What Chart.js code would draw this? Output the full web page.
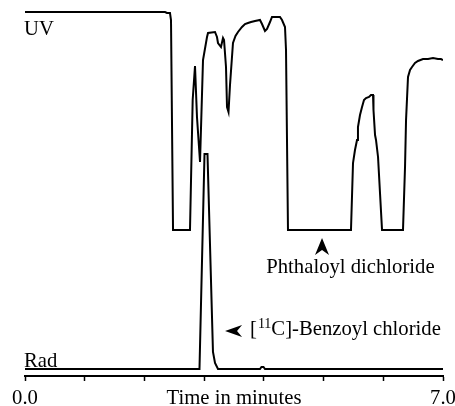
<!DOCTYPE html>
<html>
<head>
<meta charset="utf-8">
<style>
html,body{margin:0;padding:0;background:#fff;}
canvas{display:block;}
</style>
<script src="https://cdn.jsdelivr.net/npm/chart.js@4/dist/chart.umd.min.js"></script>
</head>
<body>
<canvas id="c" width="455" height="406"></canvas>
<script>
// Time axis (minutes)
const xTicks = [0, 1, 2, 3, 3.5, 4, 5, 6, 7];
const xTickLabels = {0: '0.0', 3.5: 'Time in minutes', 7: '7.0'};

// UV trace (time in minutes, signal in arbitrary units)
const uvTime = [0.000, 2.345, 2.378, 2.428, 2.445, 2.479, 2.763, 2.808, 2.847, 2.880, 2.931, 2.981, 3.048, 3.065, 3.182, 3.215, 3.232, 3.282, 3.316, 3.333, 3.366, 3.383, 3.408, 3.433, 3.483, 3.525, 3.567, 3.634, 3.684, 3.734, 3.785, 3.852, 3.935, 3.969, 4.019, 4.053, 4.103, 4.136, 4.270, 4.304, 4.354, 4.371, 4.404, 5.459, 5.493, 5.526, 5.560, 5.576, 5.610, 5.644, 5.677, 5.711, 5.761, 5.794, 5.828, 5.836, 5.862, 5.878, 5.912, 5.979, 6.330, 6.364, 6.381, 6.414, 6.448, 6.481, 6.531, 6.581, 6.665, 6.749, 6.833, 6.916, 6.966, 7.000];
const uvSignal = [364, 364, 363, 363, 356, 146, 146, 276, 310, 259, 214, 316, 339, 343, 344, 339, 333, 329, 338, 336, 309, 269, 264, 291, 333, 340, 344, 349, 352, 353, 354, 355, 356, 352, 345, 347, 354, 359, 359, 356, 349, 326, 146, 146, 213, 226, 236, 249, 261, 269, 276, 278, 279, 281, 281, 266, 241, 236, 219, 146, 146, 209, 256, 299, 306, 309, 313, 315, 317, 317, 318, 317, 317, 316];

// Radioactivity trace
const radTime = [0.000, 2.922, 3.006, 3.056, 3.148, 3.182, 3.232, 3.935, 3.960, 3.994, 4.019, 7.000];
const radSignal = [7, 7, 222, 222, 24, 13, 7, 7, 9, 9, 7, 7];

// Trace labels and peak annotations [time, signal]
const traceLabels = [['UV', 0, 341], ['Rad', 0, 9]];
const phthaloylArrow = [4.974, 138];
const phthaloylText = ['Phthaloyl dichloride', 5.45, 103];
const benzoylArrow = [3.35, 45];
const benzoylText = ['[', '11', 'C]-Benzoyl chloride', 3.768, 41];

const FONT = "'Liberation Serif', 'Times New Roman', serif";
const FS = 20.7;

function pts(xs, ys) { return xs.map((x, i) => ({x: x, y: ys[i]})); }

const annotate = {
  id: 'annotate',
  afterDraw(chart) {
    const ctx = chart.ctx, sx = chart.scales.x, sy = chart.scales.y;
    const X = v => sx.getPixelForValue(v), Y = v => sy.getPixelForValue(v);
    ctx.save();
    ctx.fillStyle = '#000';
    ctx.textBaseline = 'alphabetic';
    ctx.font = FS + 'px ' + FONT;
    ctx.textAlign = 'left';
    traceLabels.forEach(l => ctx.fillText(l[0], X(l[1]) - 1, Y(l[2])));
    // Phthaloyl arrow (pointing up)
    let ax = X(phthaloylArrow[0]), ay = Y(phthaloylArrow[1]);
    ctx.beginPath();
    ctx.moveTo(ax, ay);
    ctx.lineTo(ax + 7, ay + 17);
    ctx.lineTo(ax, ay + 12);
    ctx.lineTo(ax - 7, ay + 17);
    ctx.closePath();
    ctx.fill();
    ctx.textAlign = 'center';
    ctx.fillText(phthaloylText[0], X(phthaloylText[1]), Y(phthaloylText[2]));
    // Benzoyl arrow (pointing left)
    ax = X(benzoylArrow[0]); ay = Y(benzoylArrow[1]);
    ctx.beginPath();
    ctx.moveTo(ax, ay);
    ctx.lineTo(ax + 17, ay - 6);
    ctx.lineTo(ax + 12, ay);
    ctx.lineTo(ax + 17, ay + 6);
    ctx.closePath();
    ctx.fill();
    ctx.textAlign = 'left';
    let tx = X(benzoylText[3]), ty = Y(benzoylText[4]);
    ctx.font = FS + 'px ' + FONT;
    ctx.fillText(benzoylText[0], tx, ty);
    tx += ctx.measureText(benzoylText[0]).width + 1;
    ctx.font = '14px ' + FONT;
    ctx.fillText(benzoylText[1], tx, ty - 7);
    tx += ctx.measureText(benzoylText[1]).width;
    ctx.font = FS + 'px ' + FONT;
    ctx.fillText(benzoylText[2], tx, ty);
    ctx.restore();
  }
};

new Chart(document.getElementById('c'), {
  type: 'line',
  data: {
    datasets: [
      {label: 'UV', data: pts(uvTime, uvSignal), borderColor: '#000', borderWidth: 2, pointRadius: 0, tension: 0, fill: false},
      {label: 'Rad', data: pts(radTime, radSignal), borderColor: '#000', borderWidth: 2, pointRadius: 0, tension: 0, fill: false}
    ]
  },
  options: {
    responsive: false,
    animation: false,
    layout: {padding: {left: 25, right: 12, top: 6, bottom: 0}},
    plugins: {legend: {display: false}, tooltip: {enabled: false}},
    scales: {
      x: {
        type: 'linear', min: 0, max: 7,
        afterBuildTicks: s => { s.ticks = xTicks.map(v => ({value: v})); },
        afterFit: s => { s.height = 30; s.paddingLeft = 0; s.paddingRight = 0; },
        ticks: {
          autoSkip: false, maxRotation: 0, minRotation: 0, padding: 5,
          color: '#000', font: {family: FONT, size: FS},
          callback: v => (xTickLabels[v] !== undefined ? xTickLabels[v] : '')
        },
        grid: {
          drawOnChartArea: false, drawTicks: true, tickLength: 5, tickWidth: 1.5,
          tickColor: c => (c.tick && c.tick.value === 3.5 ? 'rgba(0,0,0,0)' : '#000')
        },
        border: {display: true, color: '#000', width: 2}
      },
      y: {
        display: false, min: 0, max: 370
      }
    }
  },
  plugins: [annotate]
});
</script>
</body>
</html>
